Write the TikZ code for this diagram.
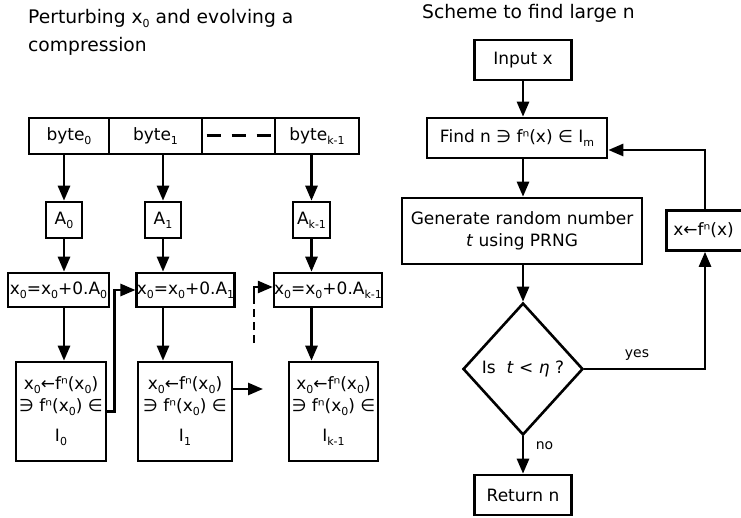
\documentclass[tikz,border=0pt]{standalone}
\usepackage{fontspec}
\setmainfont{DejaVu Sans}
\usetikzlibrary{arrows.meta,shapes.geometric,calc}
\newcommand\sbs[1]{\raisebox{-4pt}{\fontsize{11}{11}\selectfont #1}}
\begin{document}
\begin{tikzpicture}[x=1pt,y=-1pt,
  box/.style={draw, line width=2.6pt, inner sep=0pt, font=\fontsize{17}{22}\selectfont, align=center},
  arr/.style={line width=2.6pt, -{Triangle[length=15pt,width=12pt]}},
  ln/.style={line width=2.6pt},
  ttl/.style={anchor=base west, inner sep=0pt, font=\fontsize{18.7}{22}\selectfont},
  lbl/.style={anchor=base, inner sep=0pt, font=\fontsize{14}{16}\selectfont}]
\path[use as bounding box] (0,0) rectangle (741,518);
\clip (0,0) rectangle (741,518);

% titles
\node[ttl] (t1a) at (28,24) {Perturbing x\sbs{0} and evolving a};
\node[ttl] (t1b) at (28,52) {compression};
\node[ttl] (t2) at (422,19) {Scheme to find large n};

% byte strip
\node[box, minimum width=80, minimum height=36] (b0) at (69,136) {byte\sbs{0}};
\node[box, minimum width=93, minimum height=36] (b1) at (155.5,136) {byte\sbs{1}};
\node[box, minimum width=73, minimum height=36] (bd) at (238.5,136) {};
\node[box, minimum width=84, minimum height=36] (bk) at (317,136) {byte\sbs{k-1}};
\draw[line width=3pt, dash pattern=on 14pt off 11pt] ([xshift=6pt]bd.west) -- ([xshift=-3pt]bd.east);

% A boxes
\node[box, minimum width=36, minimum height=36] (a0) at (64,220) {A\sbs{0}};
\node[box, minimum width=36, minimum height=36] (a1) at (163,220) {A\sbs{1}};
\node[box, minimum width=37, minimum height=36] (ak) at (311.5,220) {A\sbs{k-1}};
\draw[arr] (a0 |- b0.south) -- (a0.north);
\draw[arr] (a1 |- b1.south) -- (a1.north);
\draw[arr] (ak |- bk.south) -- (ak.north);

% x0 boxes
\node[box, minimum width=101, minimum height=34] (x0) at (58.5,290) {x\sbs{0}=x\sbs{0}+0.A\sbs{0}};
\node[box, minimum width=97, minimum height=34] (x1) at (185.5,290) {x\sbs{0}=x\sbs{0}+0.A\sbs{1}};
\node[box, minimum width=104, minimum height=34] (xk) at (328,290) {x\sbs{0}=x\sbs{0}+0.A\sbs{k-1}};
\draw[arr] (a0.south) -- (a0 |- x0.north);
\draw[arr] (a1.south) -- (a1 |- x1.north);
\draw[arr] (ak.south) -- (ak |- xk.north);

% lower boxes
\node[box, minimum width=90, minimum height=99] (l0) at (61,411.5) {x\sbs{0}←fⁿ(x\sbs{0})\\ ∋ fⁿ(x\sbs{0}) ∈\\[8pt] I\sbs{0}};
\node[box, minimum width=94, minimum height=99] (l1) at (185,411.5) {x\sbs{0}←fⁿ(x\sbs{0})\\ ∋ fⁿ(x\sbs{0}) ∈\\[8pt] I\sbs{1}};
\node[box, minimum width=89, minimum height=99] (lk) at (333.5,411.5) {x\sbs{0}←fⁿ(x\sbs{0})\\ ∋ fⁿ(x\sbs{0}) ∈\\[8pt] I\sbs{k-1}};
\draw[arr] (a0 |- x0.south) -- (a0 |- l0.north);
\draw[arr] (a1 |- x1.south) -- (a1 |- l1.north);
\draw[arr] (ak |- xk.south) -- (ak |- lk.north);

% connectors between columns
\draw[arr] (l0.east) -- ++(7,0) |- (x1.west);
\coordinate (c1) at (263,389);
\draw[arr] (l1.east |- c1) -- (c1);
\coordinate (c2) at (254,343);
\coordinate (c3) at (254,299);
\draw[ln, dash pattern=on 8pt off 5pt] (c2) -- (c3);
\draw[arr] (c3) |- ([yshift=3pt]xk.west);

% right flowchart
\node[box, minimum width=97, minimum height=40] (in) at (523,60) {Input x};
\node[box, minimum width=180, minimum height=40] (fd) at (517,138) {Find n ∋ fⁿ(x) ∈ I\sbs{m}};
\node[box, minimum width=240, minimum height=66] (gn) at (522,231) {Generate random number\\\textit{t} using PRNG};
\node[box, diamond, minimum width=120, minimum height=132] (dm) at (523,369) {Is\ \ \textit{t} < \textit{η} ?};
\node[box, minimum width=97, minimum height=40] (rt) at (523,495) {Return n};
\node[box, anchor=west, inner xsep=7pt, minimum height=40] (xf) at (665,230.5) {\makebox[80pt][l]{x←fⁿ(x)}};

\draw[arr] (in.south) -- (in.south |- fd.north);
\draw[arr] (in.south |- fd.south) -- (in.south |- gn.north);
\draw[arr] (in.south |- gn.south) -- (dm.north);
\draw[arr] (dm.south) -- (rt.north);
\coordinate (cv) at (705,0);
\draw[arr] (dm.east) -| (cv |- xf.south);
\draw[arr] (cv |- xf.north) |- ([yshift=-12pt]fd.east);

\node[lbl] (yes) at (637,357) {yes};
\node[lbl] (no) at (544.5,449) {no};
\end{tikzpicture}
\end{document}
